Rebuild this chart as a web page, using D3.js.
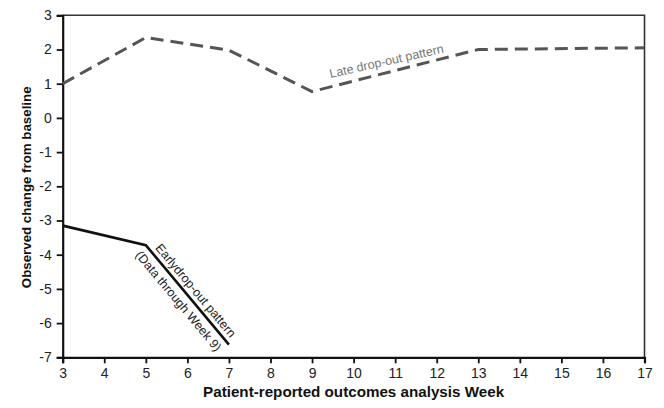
<!DOCTYPE html>
<html>
<head>
<meta charset="utf-8">
<script src="https://cdn.jsdelivr.net/npm/d3@7"></script>
<style>
  body { margin: 0; background: #fff; }
  svg { display: block; font-family: "Liberation Sans", Arial, sans-serif; }
  .tick text { font-size: 14px; fill: #222; }
  .axis-title { font-weight: bold; fill: #111; }
</style>
</head>
<body>
<script>
/* chart size and margins */
var width = 664;
var height = 408;
var margin = {top: 15.3, right: 19.5, bottom: 50.7, left: 62.7};

/* data */
var weeks = [3, 4, 5, 6, 7, 8, 9, 10, 11, 12, 13, 14, 15, 16, 17];
var yTicks = [3, 2, 1, 0, -1, -2, -3, -4, -5, -6, -7];
var lateWeeks = [3, 5, 7, 9, 13, 17];
var lateValues = [1.0, 2.35, 1.98, 0.77, 2.0, 2.05];
var earlyWeeks = [3, 5, 7];
var earlyValues = [-3.15, -3.72, -6.63];

var svg = d3.select("body").append("svg")
  .attr("width", width)
  .attr("height", height);

var x = d3.scaleLinear()
  .domain([3, 17])
  .range([margin.left, width - margin.right]);

var y = d3.scaleLinear()
  .domain([-7, 3])
  .range([height - margin.bottom, margin.top]);

/* frame: top and right borders */
svg.append("path")
  .attr("d", "M" + x(3) + "," + y(3) + " H" + x(17) + " V" + y(-7))
  .attr("fill", "none")
  .attr("stroke", "#333")
  .attr("stroke-width", 1.6);

/* axes - plain hyphen for negatives like the original */
var fmt = function(d) { return String(d); };

var xAxis = svg.append("g")
  .attr("transform", "translate(0," + y(-7) + ")")
  .call(d3.axisBottom(x).tickValues(weeks).tickFormat(fmt).tickSize(6).tickPadding(5));

var yAxis = svg.append("g")
  .attr("transform", "translate(" + x(3) + ",0)")
  .call(d3.axisLeft(y).tickValues(yTicks).tickFormat(fmt).tickSize(6).tickPadding(5));

[xAxis, yAxis].forEach(function(a) {
  a.attr("font-family", null).attr("font-size", null);
  a.select(".domain").attr("stroke", "#111").attr("stroke-width", 2.2);
  a.selectAll(".tick line").attr("stroke", "#111").attr("stroke-width", 1.8);
});

/* axis titles */
svg.append("text")
  .attr("class", "axis-title")
  .attr("x", (x(3) + x(17)) / 2)
  .attr("y", 397)
  .attr("text-anchor", "middle")
  .attr("font-size", 15.2)
  .text("Patient-reported outcomes analysis Week");

svg.append("text")
  .attr("class", "axis-title")
  .attr("transform", "translate(30.5," + ((y(3) + y(-7)) / 2 + 1) + ") rotate(-90)")
  .attr("text-anchor", "middle")
  .attr("font-size", 13.3)
  .text("Observed change from baseline");

var line = d3.line()
  .x(function(d) { return x(d[0]); })
  .y(function(d) { return y(d[1]); });

/* late drop-out, dashed grey */
svg.append("path")
  .datum(d3.zip(lateWeeks, lateValues))
  .attr("d", line)
  .attr("fill", "none")
  .attr("stroke", "#555")
  .attr("stroke-width", 3)
  .attr("stroke-dasharray", "13,7");

/* early drop-out, solid black */
svg.append("path")
  .datum(d3.zip(earlyWeeks, earlyValues))
  .attr("d", line)
  .attr("fill", "none")
  .attr("stroke", "#111")
  .attr("stroke-width", 2.6);

/* label along a segment: angle taken from the scaled segment */
function segAngle(x0, y0, x1, y1) {
  return Math.atan2(y(y1) - y(y0), x(x1) - x(x0)) * 180 / Math.PI;
}

var lateAngle = segAngle(9, 0.77, 13, 2.0) + 1.5;
svg.append("text")
  .attr("transform", "translate(" + x(10.85) + "," + y(0.77 + (2.0 - 0.77) * 1.85 / 4) + ") rotate(" + lateAngle + ")")
  .attr("text-anchor", "middle")
  .attr("dy", -7)
  .attr("font-size", 12.5)
  .attr("fill", "#777")
  .text("Late drop-out pattern");

var earlyAngle = segAngle(5, -3.72, 7, -6.63);
var earlyLbl = svg.append("g")
  .attr("transform", "translate(" + x(6.0) + "," + y((-3.72 + -6.63) / 2) + ") rotate(" + earlyAngle + ")");

earlyLbl.append("text")
  .attr("text-anchor", "middle")
  .attr("x", 2)
  .attr("dy", -5)
  .attr("font-size", 12.5)
  .attr("fill", "#222")
  .text("Earlydrop-out pattern");

earlyLbl.append("text")
  .attr("text-anchor", "middle")
  .attr("x", -1)
  .attr("dy", 15)
  .attr("font-size", 12.5)
  .attr("fill", "#222")
  .text("(Data through Week 9)");
</script>
</body>
</html>
